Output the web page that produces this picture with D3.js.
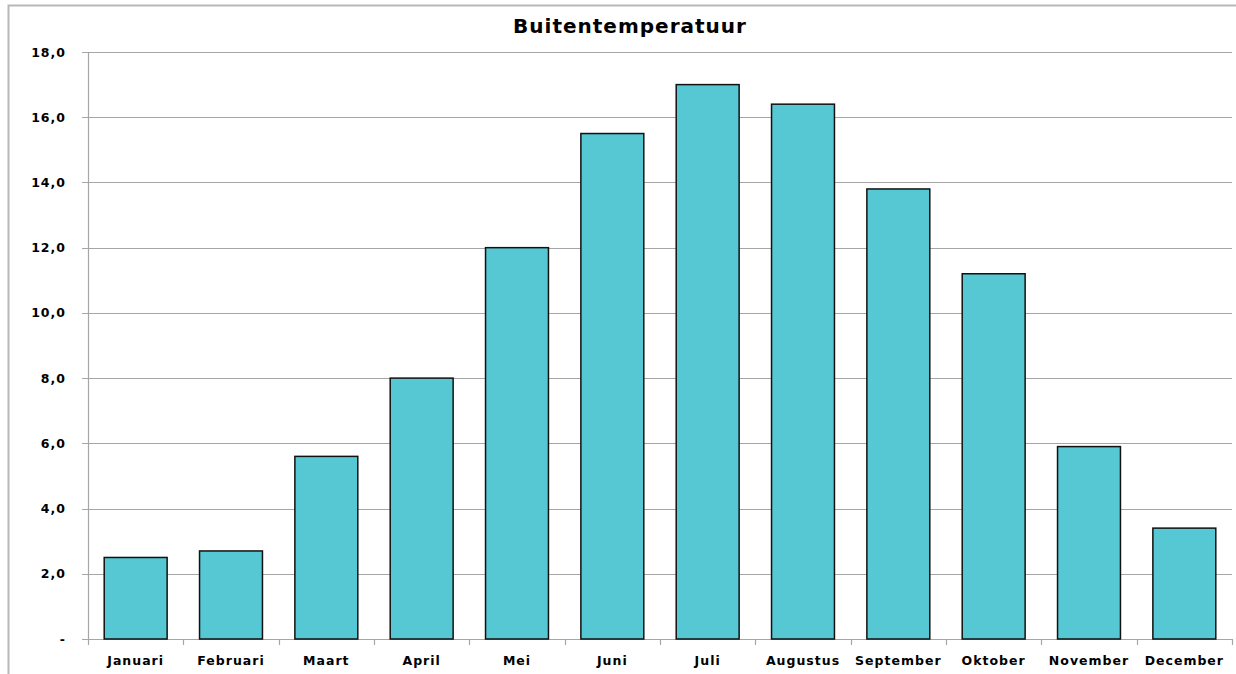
<!DOCTYPE html>
<html>
<head>
<meta charset="utf-8">
<script src="https://cdn.jsdelivr.net/npm/d3@7"></script>
<style>
  body { margin: 0; background: #fff; }
  text { font-family: "DejaVu Sans", Verdana, sans-serif; font-weight: bold; fill: #000; }
</style>
</head>
<body>
<div id="chart"></div>
<script>
var months = ["Januari", "Februari", "Maart", "April", "Mei", "Juni", "Juli",
  "Augustus", "September", "Oktober", "November", "December"];
var temps = [2.5, 2.7, 5.6, 8.0, 12.0, 15.5, 17.0, 16.4, 13.8, 11.2, 5.9, 3.4];
var yTicks = [0, 2, 4, 6, 8, 10, 12, 14, 16, 18];

var svgWidth = 1236;
var svgHeight = 674;

var margin = { top: 52, right: 4, bottom: 35, left: 88 };
var width = svgWidth - margin.left - margin.right;
var height = svgHeight - margin.top - margin.bottom;

var svg = d3.select("#chart")
  .append("svg")
  .attr("width", svgWidth)
  .attr("height", svgHeight);

// outer chart border (runs off the right and bottom edge)
svg.append("rect")
  .attr("x", 8.5)
  .attr("y", 5.5)
  .attr("width", 1240)
  .attr("height", 700)
  .attr("fill", "none")
  .attr("stroke", "#b8b8b8")
  .attr("stroke-width", 2);

svg.append("text")
  .attr("x", 630)
  .attr("y", 33)
  .attr("text-anchor", "middle")
  .style("font-size", "20px")
  .style("letter-spacing", "1px")
  .text("Buitentemperatuur");

var chartGroup = svg.append("g")
  .attr("transform", `translate(${margin.left}, ${margin.top})`);

var xScale = d3.scaleBand()
  .domain(months)
  .range([0, width])
  .paddingInner(0.34)
  .paddingOuter(0.17);

var yScale = d3.scaleLinear()
  .domain([0, 18])
  .range([height, 0]);

// gridlines + y ticks
chartGroup.selectAll(".grid")
  .data(yTicks)
  .enter()
  .append("line")
  .attr("class", "grid")
  .attr("x1", -6)
  .attr("x2", width)
  .attr("y1", d => Math.round(yScale(d)) + 0.5)
  .attr("y2", d => Math.round(yScale(d)) + 0.5)
  .attr("stroke", "#a6a6a6")
  .attr("stroke-width", 1.2);

// y axis line
chartGroup.append("line")
  .attr("x1", 0.5).attr("x2", 0.5)
  .attr("y1", 0).attr("y2", height)
  .attr("stroke", "#a6a6a6")
  .attr("stroke-width", 1.2);

var leftAxis = d3.axisLeft(yScale)
  .tickValues(yTicks)
  .tickSize(0)
  .tickPadding(22)
  .tickFormat(d => d === 0 ? "-" : d3.format(".1f")(d).replace(".", ","));

chartGroup.append("g")
  .call(leftAxis)
  .call(g => g.select(".domain").remove())
  .selectAll("text")
  .style("font-size", "12.5px")
  .style("letter-spacing", "1px")
  .attr("fill", "#000");

// x tick marks at category boundaries
var step = xScale.step();
chartGroup.selectAll(".xtick")
  .data(d3.range(months.length + 1))
  .enter()
  .append("line")
  .attr("x1", d => Math.round(d * step) + 0.5)
  .attr("x2", d => Math.round(d * step) + 0.5)
  .attr("y1", height)
  .attr("y2", height + 6)
  .attr("stroke", "#a6a6a6")
  .attr("stroke-width", 1.2);

chartGroup.selectAll(".bar")
  .data(temps)
  .enter()
  .append("rect")
  .attr("class", "bar")
  .attr("x", (d, i) => xScale(months[i]))
  .attr("y", d => yScale(d))
  .attr("width", xScale.bandwidth())
  .attr("height", d => height - yScale(d))
  .attr("fill", "#56c8d3")
  .attr("stroke", "#111")
  .attr("stroke-width", 1.5);

chartGroup.selectAll(".xlabel")
  .data(months)
  .enter()
  .append("text")
  .attr("class", "xlabel")
  .attr("x", d => xScale(d) + xScale.bandwidth() / 2)
  .attr("y", height + 26)
  .attr("text-anchor", "middle")
  .style("font-size", "12.5px")
  .style("letter-spacing", "1px")
  .text(d => d);
</script>
</body>
</html>
